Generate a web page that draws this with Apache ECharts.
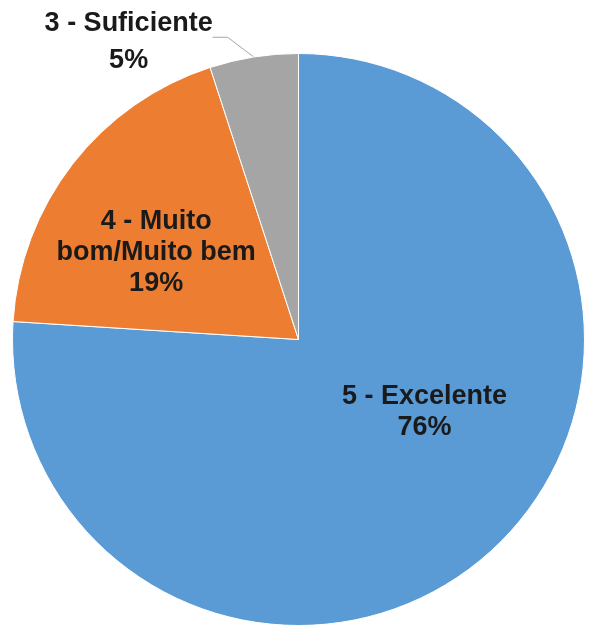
<!DOCTYPE html>
<html>
<head>
<meta charset="utf-8">
<script src="https://cdn.jsdelivr.net/npm/echarts@6/dist/echarts.min.js"></script>
<style>
html,body{margin:0;padding:0;background:#fff;}
#chart{width:589px;height:627px;}
</style>
</head>
<body>
<div id="chart"></div>
<script>
const categories = ['5 - Excelente', '4 - Muito\nbom/Muito bem', '3 - Suficiente'];
const values = [76, 19, 5];
const colors = ['#5B9BD5', '#ED7D31', '#A5A5A5'];

const chart = echarts.init(document.getElementById('chart'));
const textColor = '#1a1a1a';
const font = '"Liberation Sans", Arial, sans-serif';

const data = categories.map((c, i) => {
  const item = { name: c, value: values[i], itemStyle: { color: colors[i] } };
  if (i < 2) {
    item.label = { position: 'inside' };
    item.labelLine = { show: false };
  } else {
    item.label = {
      position: 'outside',
      formatter: p => '{a|' + p.name + '}\n{a|' + p.value + '%}',
      rich: { a: { width: 180, align: 'center', fontSize: 27, fontWeight: 'bold', fontFamily: font, color: textColor, lineHeight: 37 } }
    };
    item.labelLine = { show: true, length: 20, length2: 38, lineStyle: { color: '#A6A6A6', width: 1 } };
  }
  return item;
});

chart.setOption({
  backgroundColor: '#ffffff',
  animation: false,
  series: [{
    type: 'pie',
    center: [298.5, 339.5],
    radius: 286,
    startAngle: 90,
    clockwise: true,
    avoidLabelOverlap: false,
    itemStyle: { borderColor: '#ffffff', borderWidth: 1 },
    label: {
      show: true,
      formatter: p => p.name + '\n' + p.value + '%',
      color: textColor,
      fontSize: 27,
      fontWeight: 'bold',
      fontFamily: font,
      lineHeight: 31,
      align: 'center',
      distanceToLabelLine: 2
    },
    labelLayout: function (p) {
      if (p.dataIndex === 0) return { dx: 26, dy: -34 };
      if (p.dataIndex === 1) return { dx: -27, dy: 3 };
      const pts = p.labelLinePoints;
      if (pts && pts.length === 3) {
        return { dx: 8, dy: 5, labelLinePoints: [pts[0], [pts[2][0] + 15, pts[2][1]], pts[2]] };
      }
      return { dx: 8, dy: 5 };
    },
    data: data
  }]
});
</script>
</body>
</html>
